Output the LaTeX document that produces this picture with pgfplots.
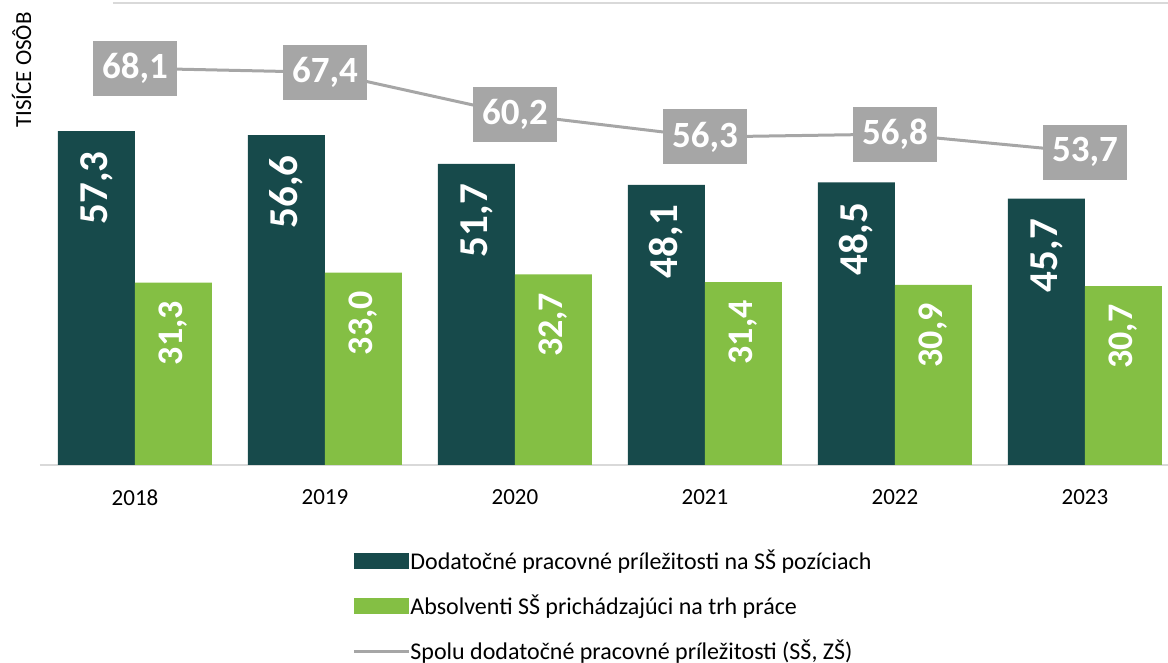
\documentclass[border=0pt]{standalone}
\usepackage{pgfplots}
\pgfplotsset{compat=1.18}
\usepackage{fontspec}
\setmainfont{Carlito}
\definecolor{darkg}{HTML}{174A4B}
\definecolor{lightg}{HTML}{84BF44}
\definecolor{lgray}{HTML}{A6A6A6}
\definecolor{axgray}{HTML}{D9D9D9}
\begin{document}
\begin{tikzpicture}
\begin{axis}[
  scale only axis,
  width=564pt, height=231pt,
  xmin=-0.5, xmax=5.437,
  ymin=0, ymax=79.3,
  clip=false,
  axis x line*=bottom,
  axis y line=none,
  x axis line style={color=axgray, line width=1pt},
  xtick={0,1,2,3,4,5},
  xticklabels={2018,2019,2020,2021,2022,2023},
  major tick length=0pt,
  xticklabel style={font=\fontsize{11.5}{13}\selectfont, anchor=north, inner sep=0pt, yshift=-12pt},
  legend style={at={(0.2766,-0.1825)}, anchor=north west, draw=none, fill=none,
    font=\fontsize{12}{14}\selectfont, row sep=11.2pt, inner sep=0pt,
    nodes={inner sep=0pt, anchor=west},
    /tikz/every even column/.append style={column sep=0pt}},
  legend cell align=left,
]
\addplot[ybar, bar width=38.5pt, bar shift=-19.25pt, fill=darkg, draw=none,
  point meta=explicit symbolic, nodes near coords,
  every node near coord/.append style={xshift=-19.25pt, rotate=90, anchor=east, text=white,
    font=\bfseries\fontsize{20.5}{22}\selectfont, inner xsep=10pt, inner ysep=0pt},
  legend image code/.code={\fill[darkg] (0pt,-4pt) rectangle (27.5pt,4pt);}]
  coordinates {(0,57.3)[57,3] (1,56.6)[56,6] (2,51.7)[51,7] (3,48.1)[48,1] (4,48.5)[48,5] (5,45.7)[45,7]};
\addlegendentry{Dodatočné pracovné príležitosti na SŠ pozíciach}
\addplot[ybar, bar width=38.5pt, bar shift=19.25pt, fill=lightg, draw=none,
  point meta=explicit symbolic, nodes near coords,
  every node near coord/.append style={xshift=19.25pt, rotate=90, anchor=east, text=white,
    font=\bfseries\fontsize{18}{20}\selectfont, inner xsep=9pt, inner ysep=0pt},
  legend image code/.code={\fill[lightg] (0pt,-4pt) rectangle (27.5pt,4pt);}]
  coordinates {(0,31.3)[31,3] (1,33.0)[33,0] (2,32.7)[32,7] (3,31.4)[31,4] (4,30.9)[30,9] (5,30.7)[30,7]};
\addlegendentry{Absolventi SŠ prichádzajúci na trh práce}
\addplot[sharp plot, color=lgray, line width=1.5pt, mark=none,
  point meta=explicit symbolic, nodes near coords,
  every node near coord/.append style={anchor=center, fill=lgray, text=white,
    font=\bfseries\fontsize{18.5}{20}\selectfont, minimum width=42pt, minimum height=27.5pt, inner sep=0pt},
  legend image code/.code={\draw[lgray, line width=1.5pt] (0pt,0pt) -- (27.5pt,0pt);}]
  coordinates {(0,68.1)[68,1] (1,67.4)[67,4] (2,60.2)[60,2] (3,56.3)[56,3] (4,56.8)[56,8] (5,53.7)[53,7]};
\addlegendentry{Spolu dodatočné pracovné príležitosti (SŠ, ZŠ)}
\draw[axgray, line width=1pt] (rel axis cs:0.0647,1) -- (rel axis cs:1,1);
\node[rotate=90, anchor=east, inner sep=0pt, font=\fontsize{11.5}{13}\selectfont]
  at ([xshift=-9.25pt, yshift=-4.5pt]rel axis cs:0,1) {TISÍCE OSÔB};
\end{axis}
\pgfresetboundingbox
\path[use as bounding box] (-20pt,-99pt) rectangle (564pt,232.5pt);
\end{tikzpicture}
\end{document}
